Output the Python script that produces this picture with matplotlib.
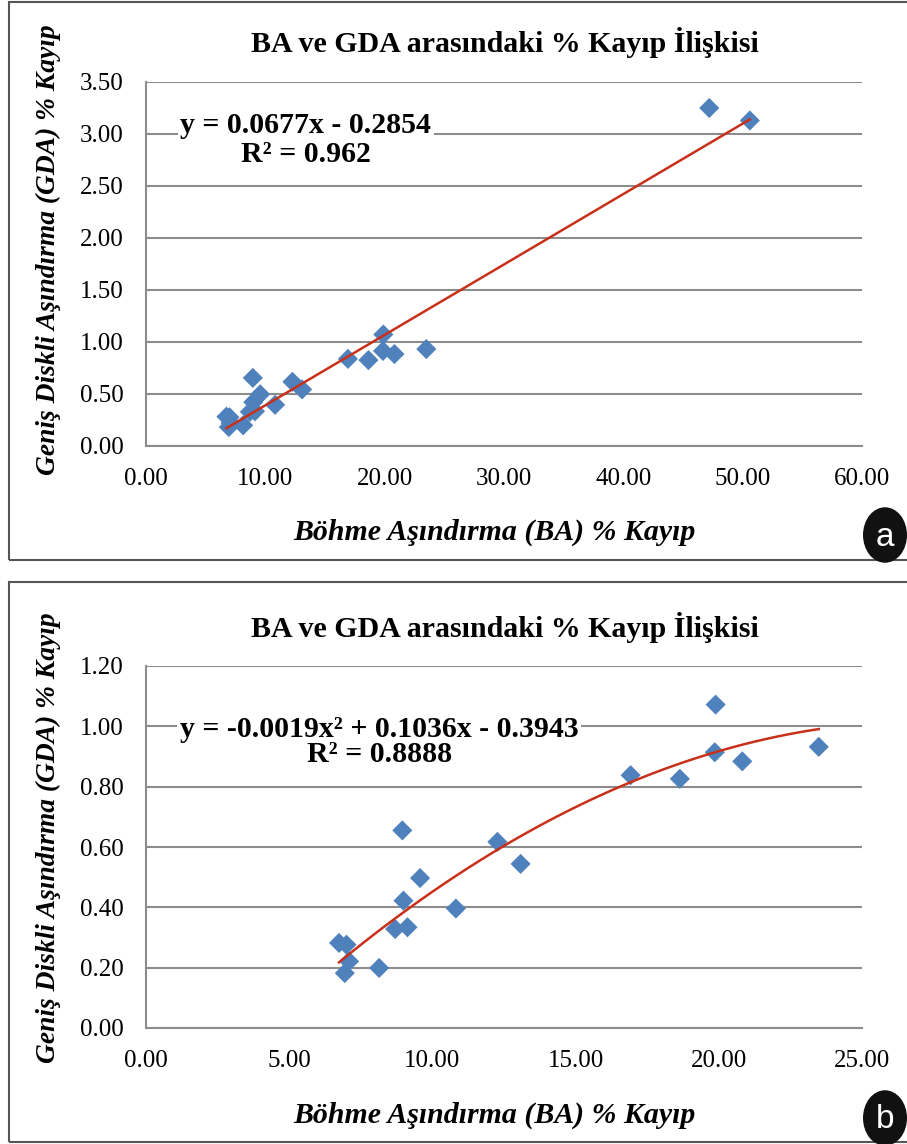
import matplotlib
matplotlib.use("Agg")
import matplotlib.pyplot as plt
import numpy as np
from matplotlib.patches import Rectangle, Circle

plt.rcParams['font.family'] = ['Liberation Serif', 'DejaVu Serif']

# ---- data ----
ba_b = [6.74, 7.00, 7.09, 6.94, 8.14, 8.70, 9.13, 8.99, 9.57, 8.95,
        10.82, 12.27, 13.08, 16.92, 18.64, 19.86, 19.89, 20.82, 23.49]
gda_b = [0.282, 0.276, 0.221, 0.182, 0.199, 0.328, 0.334, 0.422, 0.497, 0.655,
         0.396, 0.617, 0.544, 0.838, 0.826, 0.914, 1.072, 0.884, 0.932]
ba_extra = [47.2, 50.6]
gda_extra = [3.25, 3.13]
ba_a = ba_b + ba_extra
gda_a = gda_b + gda_extra

lin_coef = [0.0677, -0.2854]          # y = 0.0677x - 0.2854
quad_coef = [-0.0019, 0.1036, -0.3943]  # y = -0.0019x^2 + 0.1036x - 0.3943

title = "BA ve GDA arasındaki % Kayıp İlişkisi"
xlabel = "Böhme Aşındırma (BA) % Kayıp"
ylabel = "Geniş Diskli Aşındırma (GDA) % Kayıp"
eq_a = ["y = 0.0677x - 0.2854", "R² = 0.962"]
eq_b = ["y = -0.0019x² + 0.1036x - 0.3943", "R² = 0.8888"]

xt_a = [0, 10, 20, 30, 40, 50, 60]
yt_a = [0, 0.5, 1.0, 1.5, 2.0, 2.5, 3.0, 3.5]
xt_b = [0, 5, 10, 15, 20, 25]
yt_b = [0, 0.2, 0.4, 0.6, 0.8, 1.0, 1.2]

W, H = 907, 1144
fig = plt.figure(figsize=(W / 100, H / 100), dpi=100)
fig.patch.set_facecolor('white')

def fx(px):
    return px / W

def fy(py):
    return 1 - py / H

# panel frames
for (x0, y0, x1, y1) in [(9, 2, 920, 560), (9, 582, 920, 1142)]:
    fig.patches.append(Rectangle((fx(x0), fy(y1)), fx(x1 - x0), (y1 - y0) / H,
                                 transform=fig.transFigure, fill=False,
                                 edgecolor='#555555', linewidth=1.5, zorder=1))

blue = '#4F81BD'
red = '#C8301A'
grid_col = '#8c8c8c'

def setup(ax, xt, yt):
    ax.set_facecolor('none')
    ax.set_xlim(xt[0], xt[-1])
    ax.set_ylim(yt[0], yt[-1])
    ax.set_xticks(xt)
    ax.set_yticks(yt)
    ax.set_xticklabels([f"{v:.2f}" for v in xt])
    ax.set_yticklabels([f"{v:.2f}" for v in yt])
    ax.tick_params(length=0, labelsize=18, pad=16)
    ax.tick_params(axis='x', pad=16)
    for s in ['top', 'right']:
        ax.spines[s].set_visible(False)
    for s in ['left', 'bottom']:
        ax.spines[s].set_color(grid_col)
        ax.spines[s].set_linewidth(1.5)
    ax.yaxis.grid(True, color=grid_col, linewidth=1.5)
    ax.set_axisbelow(True)

# ---- panel a ----
axa = fig.add_axes([fx(146), fy(446), fx(862 - 146), (446 - 82) / H])
setup(axa, xt_a, yt_a)
axa.scatter(ba_a, gda_a, marker='D', s=105, color=blue, edgecolors='none', zorder=3)
xa = np.linspace(min(ba_a), max(ba_a), 100)
axa.plot(xa, np.polyval(lin_coef, xa), color=red, linewidth=1.8, zorder=4)
axa.text(0.223, 0.84, eq_a[0] + "\n" + eq_a[1], transform=axa.transAxes,
         ha='center', va='center', fontsize=21.5, fontweight='bold',
         linespacing=1.1, zorder=5,
         bbox=dict(facecolor='white', edgecolor='none', pad=2))

# ---- panel b ----
axb = fig.add_axes([fx(146), fy(1028), fx(862 - 146), (1028 - 666) / H])
setup(axb, xt_b, yt_b)
axb.scatter(ba_b, gda_b, marker='D', s=105, color=blue, edgecolors='none', zorder=3)
xb = np.linspace(min(ba_b), max(ba_b), 100)
axb.plot(xb, np.polyval(quad_coef, xb), color=red, linewidth=1.8, zorder=4)
axb.text(0.326, 0.79, eq_b[0] + "\n" + eq_b[1], transform=axb.transAxes,
         ha='center', va='center', fontsize=21.5, fontweight='bold',
         linespacing=0.95, zorder=5,
         bbox=dict(facecolor='white', edgecolor='none', pad=2))

# titles and labels
for ty, xy, yy in [(42, 532, 250), (627, 1115, 838)]:
    fig.text(fx(505), fy(ty), title, ha='center', va='center', fontsize=21.5,
             fontweight='bold')
    fig.text(fx(494), fy(xy), xlabel, ha='center', va='center', fontsize=21.5,
             fontweight='bold', style='italic')
    fig.text(fx(48), fy(yy), ylabel, ha='center', va='center', fontsize=19.8,
             fontweight='bold', style='italic', rotation=90)

# panel markers a / b
for (cx, cy, lab) in [(885, 535, 'a'), (885, 1118, 'b')]:
    fig.patches.append(Circle((fx(cx), fy(cy)), 22 / W, transform=fig.transFigure,
                              facecolor='#111111', edgecolor='none', zorder=6))
    fig.text(fx(cx), fy(cy + 2), lab, ha='center', va='center', color='white',
             fontsize=24, family='Liberation Sans', zorder=7)

fig.savefig('out.png', dpi=100, facecolor='white')
